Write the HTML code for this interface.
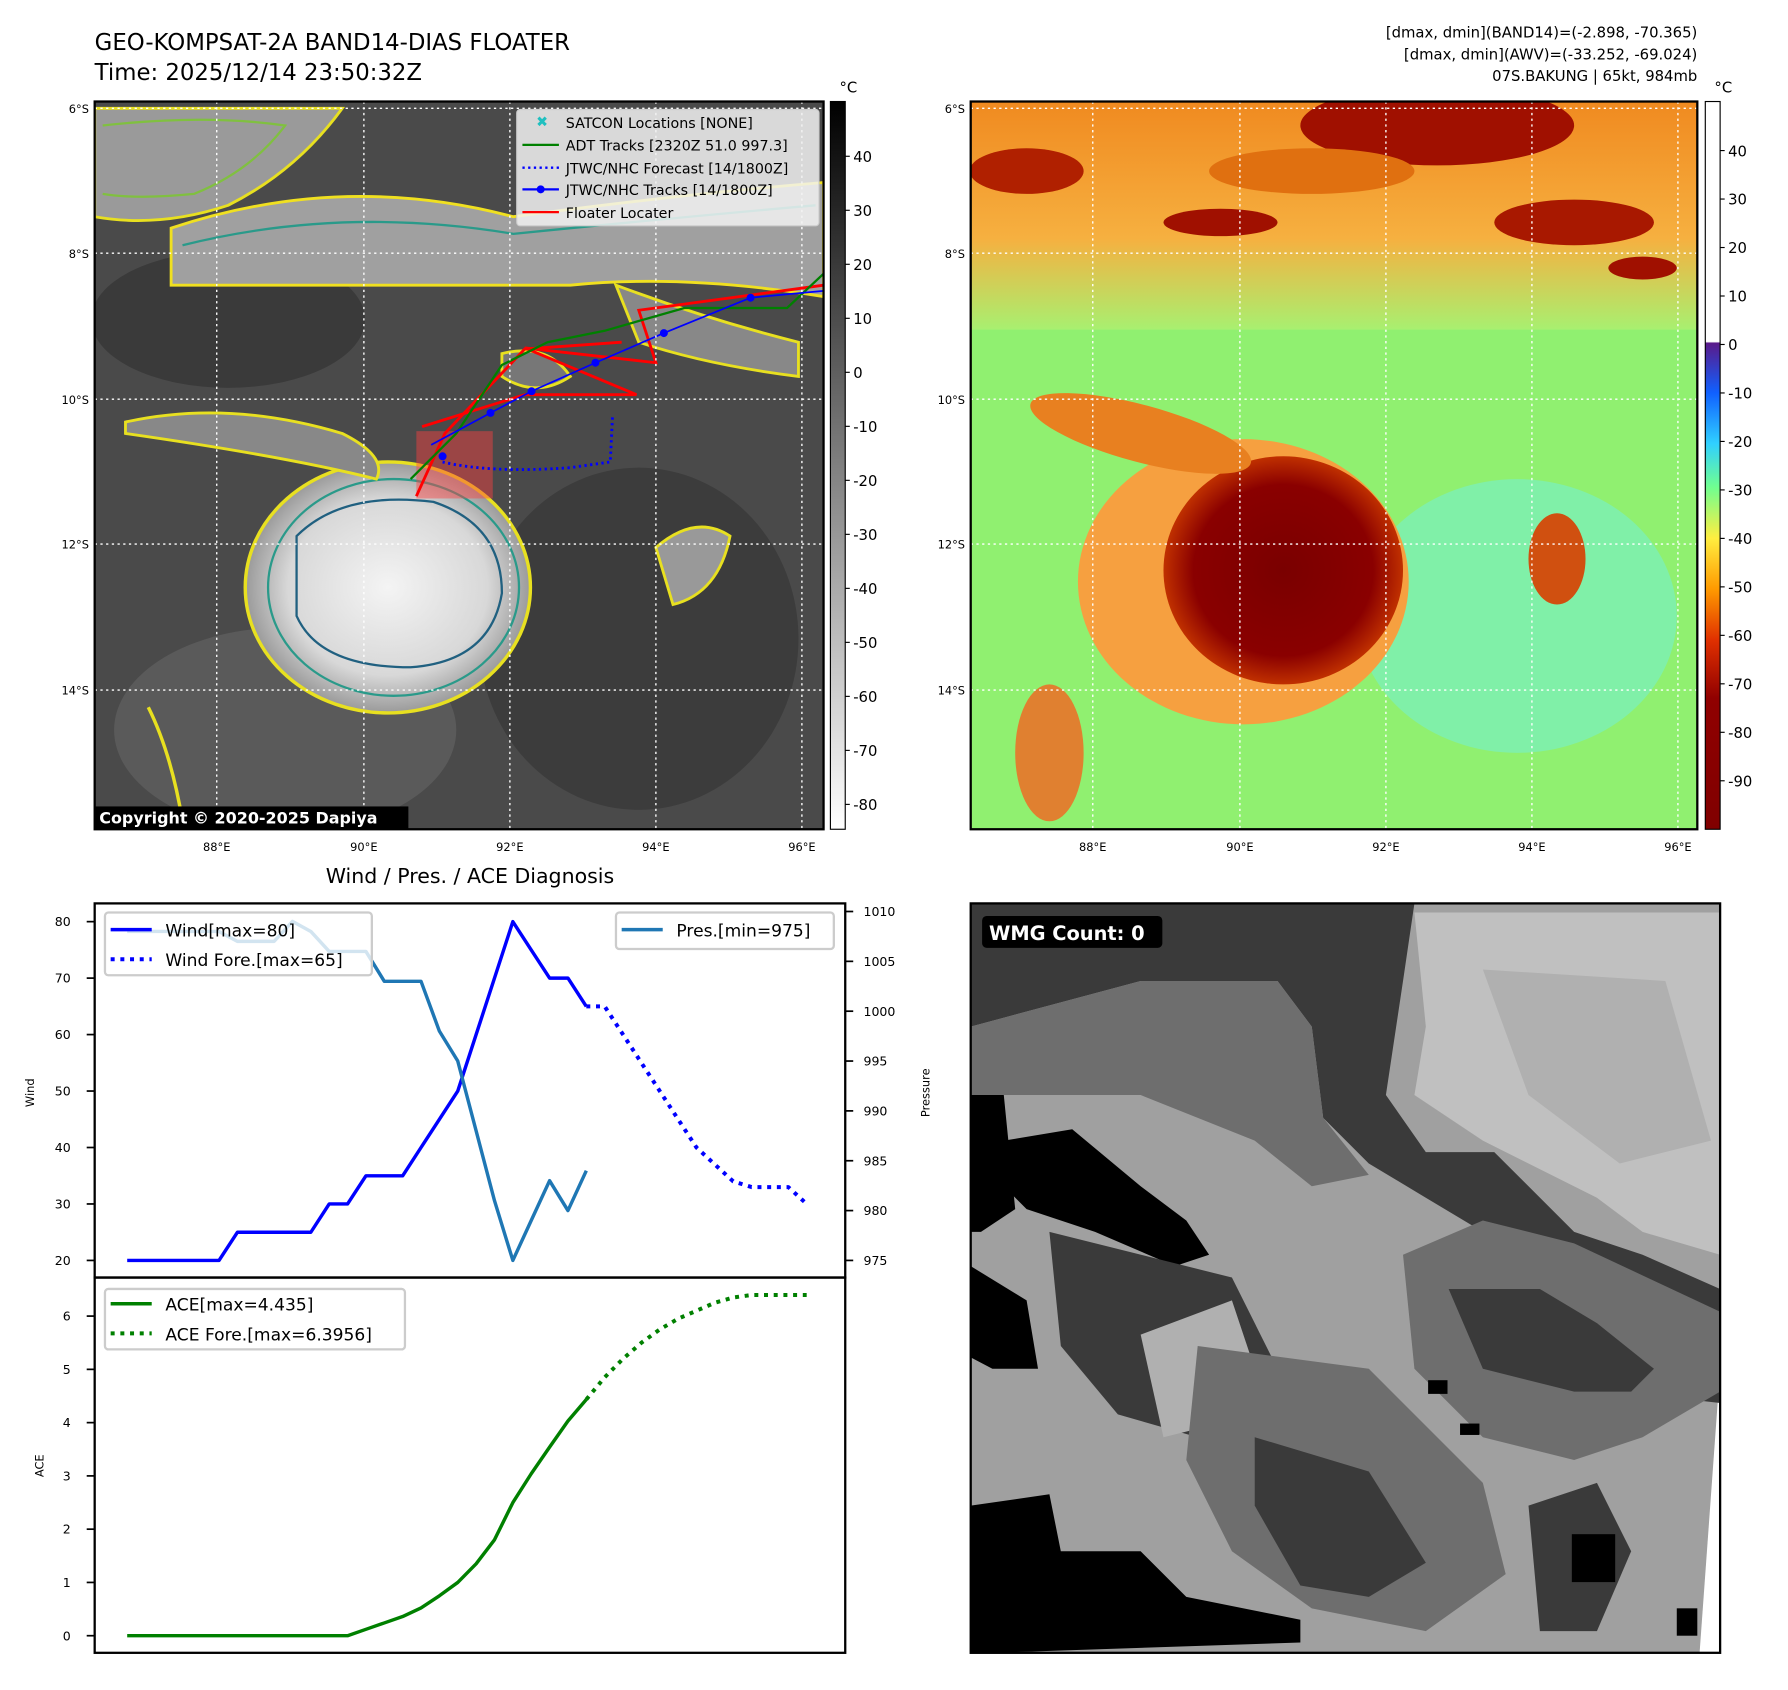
<!DOCTYPE html>
<html><head><meta charset="utf-8"><style>
html,body{margin:0;padding:0;background:#fff;}
svg{display:block;font-family:"DejaVu Sans","Liberation Sans",sans-serif;}
</style></head><body>
<svg id="root" width="1788" height="1690" viewBox="0 0 1567.5 1481.6" xmlns="http://www.w3.org/2000/svg">
<defs>
<linearGradient id="gbar" x1="0" y1="0" x2="0" y2="1"><stop offset="0" stop-color="#000"/><stop offset="1" stop-color="#fff"/></linearGradient>
<linearGradient id="cbar" x1="0" y1="0" x2="0" y2="1">
<stop offset="0" stop-color="#fff"/><stop offset="0.33" stop-color="#fff"/><stop offset="0.332" stop-color="#5a1a8a"/>
<stop offset="0.40" stop-color="#1060ff"/><stop offset="0.47" stop-color="#30d0ff"/><stop offset="0.53" stop-color="#70ff90"/>
<stop offset="0.60" stop-color="#ffee40"/><stop offset="0.67" stop-color="#ff9a00"/><stop offset="0.74" stop-color="#e03000"/>
<stop offset="0.82" stop-color="#900000"/><stop offset="1" stop-color="#800000"/></linearGradient>
<radialGradient id="storm"><stop offset="0" stop-color="#f4f4f4"/><stop offset="0.7" stop-color="#d8d8d8"/><stop offset="1" stop-color="#9a9a9a"/></radialGradient>
<radialGradient id="storm2"><stop offset="0" stop-color="#7a0000"/><stop offset="0.75" stop-color="#8a0000"/><stop offset="1" stop-color="#c03000"/></radialGradient>
<linearGradient id="topband" x1="0" y1="0" x2="0" y2="1"><stop offset="0" stop-color="#f08a20"/><stop offset="0.6" stop-color="#f6b040"/><stop offset="1" stop-color="#a8f070"/></linearGradient>
<clipPath id="c1"><rect x="83" y="89" width="639" height="638"/></clipPath>
<clipPath id="c2"><rect x="851" y="89" width="637" height="638"/></clipPath>
</defs>

<text x="83" y="44" font-size="20">GEO-KOMPSAT-2A BAND14-DIAS FLOATER</text>
<text x="83" y="70" font-size="20">Time: 2025/12/14 23:50:32Z</text>
<g font-size="13" text-anchor="end">
<text x="1488" y="33">[dmax, dmin](BAND14)=(-2.898, -70.365)</text>
<text x="1488" y="52">[dmax, dmin](AWV)=(-33.252, -69.024)</text>
<text x="1488" y="71">07S.BAKUNG | 65kt, 984mb</text>
</g>

<!-- top-left IR map -->
<g clip-path="url(#c1)">
<rect x="83" y="89" width="639" height="638" fill="#4a4a4a"/>
<ellipse cx="250" cy="640" rx="150" ry="90" fill="#5a5a5a"/>
<ellipse cx="560" cy="560" rx="140" ry="150" fill="#3c3c3c"/>
<ellipse cx="200" cy="280" rx="120" ry="60" fill="#3a3a3a"/>
<path d="M150 200 Q300 150 450 190 Q600 170 722 160 L722 260 Q600 240 500 250 Q350 250 150 250 Z" fill="#a0a0a0" stroke="#f0e020" stroke-width="2.5"/>
<path d="M160 215 Q300 180 450 205 Q600 190 715 180" fill="none" stroke="#2a9a8a" stroke-width="2"/>
<path d="M83 95 L300 95 Q260 150 200 180 Q140 200 83 190 Z" fill="#9a9a9a" stroke="#e8e020" stroke-width="2.5"/>
<path d="M90 110 Q180 100 250 110 Q220 150 170 170 Q120 175 90 170" fill="none" stroke="#80c040" stroke-width="2"/>
<ellipse cx="340" cy="515" rx="125" ry="110" fill="url(#storm)" stroke="#e8e020" stroke-width="3"/>
<ellipse cx="345" cy="515" rx="110" ry="95" fill="none" stroke="#2a9a8a" stroke-width="2"/>
<path d="M260 470 Q300 430 380 440 Q440 460 440 520 Q430 580 360 585 Q280 585 260 540 Z" fill="none" stroke="#206080" stroke-width="2"/>
<path d="M110 370 Q200 350 300 380 Q340 400 330 420 Q250 400 110 380 Z" fill="#888" stroke="#e8e020" stroke-width="2.5"/>
<path d="M575 480 Q610 450 640 470 Q630 520 590 530 Z" fill="#999" stroke="#e8e020" stroke-width="2.5"/>
<path d="M130 620 Q150 660 160 720" fill="none" stroke="#e8e020" stroke-width="3"/>
<path d="M540 250 Q620 280 700 300 L700 330 Q620 320 560 300 Z" fill="#888" stroke="#e8e020" stroke-width="2.5"/>
<path d="M440 310 Q480 300 500 330 Q470 350 440 330 Z" fill="#777" stroke="#e8e020" stroke-width="2.5"/>
<rect x="365" y="378" width="67" height="59" fill="#ff4040" fill-opacity="0.45"/>
<g fill="none" stroke-width="2.5">
<path d="M370 374 L460 346 L558 346 L460 305 L575 318 L560 272 L722 250" stroke="#ff0000"/>
<path d="M365 435 L390 380 L460 306 L545 300" stroke="#ff0000"/>
<path d="M360 420 L400 380 L440 320 L480 300 L530 290 L600 270 L690 270 L722 240" stroke="#008000" stroke-width="2"/>
<path d="M378 390 L430 362 L466 343 L522 318 L582 292 L658 261 L722 255" stroke="#0000ff" stroke-width="1.5"/>
<path d="M388 405 Q430 415 500 410 L535 405 L537 365" stroke="#0000ff" stroke-dasharray="2 3"/>
</g>
<g fill="#0000ff"><circle cx="388" cy="400" r="3.5"/><circle cx="430" cy="362" r="3.5"/><circle cx="466" cy="343" r="3.5"/><circle cx="522" cy="318" r="3.5"/><circle cx="582" cy="292" r="3.5"/><circle cx="658" cy="261" r="3.5"/></g>
<g stroke="#fff" stroke-dasharray="2 3" stroke-width="1.2">
<line x1="83" y1="95" x2="722" y2="95"/><line x1="83" y1="222" x2="722" y2="222"/><line x1="83" y1="350" x2="722" y2="350"/><line x1="83" y1="477" x2="722" y2="477"/><line x1="83" y1="605" x2="722" y2="605"/>
<line x1="190" y1="89" x2="190" y2="727"/><line x1="319" y1="89" x2="319" y2="727"/><line x1="447" y1="89" x2="447" y2="727"/><line x1="575" y1="89" x2="575" y2="727"/><line x1="703" y1="89" x2="703" y2="727"/>
</g>
</g>
<rect x="83" y="89" width="639" height="638" fill="none" stroke="#000" stroke-width="2"/>
<g>
<rect x="453" y="96" width="265" height="102" fill="#f2f2f2" fill-opacity="0.85" stroke="#ccc" rx="3"/>
<g font-size="12.5">
<text x="470" y="111" fill="#20c0c0" font-weight="bold">✖</text><text x="496" y="112">SATCON Locations [NONE]</text>
<line x1="458" y1="127" x2="490" y2="127" stroke="#008000" stroke-width="2"/><text x="496" y="132">ADT Tracks [2320Z 51.0 997.3]</text>
<line x1="458" y1="147" x2="490" y2="147" stroke="#0000ff" stroke-width="2" stroke-dasharray="2 3"/><text x="496" y="152">JTWC/NHC Forecast [14/1800Z]</text>
<line x1="458" y1="166" x2="490" y2="166" stroke="#0000ff" stroke-width="2"/><circle cx="474" cy="166" r="3.5" fill="#0000ff"/><text x="496" y="171">JTWC/NHC Tracks [14/1800Z]</text>
<line x1="458" y1="186" x2="490" y2="186" stroke="#ff0000" stroke-width="2"/><text x="496" y="191">Floater Locater</text>
</g></g>
<rect x="83" y="707" width="275" height="20" fill="#000"/>
<text x="87" y="722" font-size="14" font-weight="bold" fill="#fff">Copyright © 2020-2025 Dapiya</text>
<g font-size="10" text-anchor="end">
<text x="78" y="99">6°S</text><text x="78" y="226">8°S</text><text x="78" y="354">10°S</text><text x="78" y="481">12°S</text><text x="78" y="609">14°S</text></g>
<g font-size="10" text-anchor="middle">
<text x="190" y="746">88°E</text><text x="319" y="746">90°E</text><text x="447" y="746">92°E</text><text x="575" y="746">94°E</text><text x="703" y="746">96°E</text></g>
<rect x="728" y="89" width="13" height="638" fill="url(#gbar)" stroke="#000"/>
<text x="736" y="81" font-size="13">°C</text>
<g id="cb1" font-size="13"></g>

<!-- top-right AWV map -->
<g clip-path="url(#c2)">
<rect x="851" y="89" width="637" height="638" fill="#90f070"/>
<ellipse cx="1330" cy="540" rx="140" ry="120" fill="#80f0a8"/>
<rect x="851" y="89" width="637" height="200" fill="url(#topband)"/>
<ellipse cx="1260" cy="110" rx="120" ry="35" fill="#a01000"/>
<ellipse cx="1380" cy="195" rx="70" ry="20" fill="#a81800"/>
<ellipse cx="1070" cy="195" rx="50" ry="12" fill="#a01000"/>
<ellipse cx="900" cy="150" rx="50" ry="20" fill="#b02000"/>
<ellipse cx="1440" cy="235" rx="30" ry="10" fill="#a01000"/>
<ellipse cx="1150" cy="150" rx="90" ry="20" fill="#e07010"/>
<ellipse cx="1090" cy="510" rx="145" ry="125" fill="#f6a040"/>
<ellipse cx="1125" cy="500" rx="105" ry="100" fill="url(#storm2)"/>
<ellipse cx="1000" cy="380" rx="100" ry="25" fill="#e88020" transform="rotate(15 1000 380)"/>
<ellipse cx="1365" cy="490" rx="25" ry="40" fill="#d05010"/>
<ellipse cx="920" cy="660" rx="30" ry="60" fill="#e08030"/>
<g stroke="#fff" stroke-dasharray="2 3" stroke-width="1.2">
<line x1="851" y1="95" x2="1488" y2="95"/><line x1="851" y1="222" x2="1488" y2="222"/><line x1="851" y1="350" x2="1488" y2="350"/><line x1="851" y1="477" x2="1488" y2="477"/><line x1="851" y1="605" x2="1488" y2="605"/>
<line x1="958" y1="89" x2="958" y2="727"/><line x1="1087" y1="89" x2="1087" y2="727"/><line x1="1215" y1="89" x2="1215" y2="727"/><line x1="1343" y1="89" x2="1343" y2="727"/><line x1="1471" y1="89" x2="1471" y2="727"/>
</g></g>
<rect x="851" y="89" width="637" height="638" fill="none" stroke="#000" stroke-width="2"/>
<g font-size="10" text-anchor="end">
<text x="846" y="99">6°S</text><text x="846" y="226">8°S</text><text x="846" y="354">10°S</text><text x="846" y="481">12°S</text><text x="846" y="609">14°S</text></g>
<g font-size="10" text-anchor="middle">
<text x="958" y="746">88°E</text><text x="1087" y="746">90°E</text><text x="1215" y="746">92°E</text><text x="1343" y="746">94°E</text><text x="1471" y="746">96°E</text></g>
<rect x="1495" y="89" width="13" height="638" fill="url(#cbar)" stroke="#000"/>
<text x="1503" y="81" font-size="13">°C</text>
<g id="cb2" font-size="13"></g>

<!-- bottom chart -->
<text x="412" y="774" font-size="18" text-anchor="middle">Wind / Pres. / ACE Diagnosis</text>
<rect x="83" y="792" width="658" height="328" fill="none" stroke="#000" stroke-width="2"/>
<rect x="83" y="1120" width="658" height="329" fill="none" stroke="#000" stroke-width="2"/>
<text transform="translate(30 958) rotate(-90)" font-size="10" text-anchor="middle">Wind</text>
<text transform="translate(815 958) rotate(-90)" font-size="10" text-anchor="middle">Pressure</text>
<text transform="translate(38 1285) rotate(-90)" font-size="10" text-anchor="middle">ACE</text>
<g id="ticks"></g>
<g id="series"></g>
<g>
<rect x="92" y="800" width="234" height="55" fill="#fff" fill-opacity="0.8" stroke="#ccc" stroke-width="2" rx="3"/>
<line x1="97" y1="815" x2="133" y2="815" stroke="#0000ff" stroke-width="3"/><text x="145" y="821" font-size="15">Wind[max=80]</text>
<line x1="97" y1="841" x2="133" y2="841" stroke="#0000ff" stroke-width="3.5" stroke-dasharray="3.5 5"/><text x="145" y="847" font-size="15">Wind Fore.[max=65]</text>
</g>
<g>
<rect x="540" y="800" width="191" height="32" fill="#fff" fill-opacity="0.8" stroke="#ccc" stroke-width="2" rx="3"/>
<line x1="545" y1="815" x2="581" y2="815" stroke="#1f77b4" stroke-width="3"/><text x="593" y="821" font-size="15">Pres.[min=975]</text>
</g>
<g>
<rect x="92" y="1130" width="263" height="53" fill="#fff" fill-opacity="0.8" stroke="#ccc" stroke-width="2" rx="3"/>
<line x1="97" y1="1143" x2="133" y2="1143" stroke="#008000" stroke-width="3"/><text x="145" y="1149" font-size="15">ACE[max=4.435]</text>
<line x1="97" y1="1169" x2="133" y2="1169" stroke="#008000" stroke-width="3.5" stroke-dasharray="3.5 5"/><text x="145" y="1175" font-size="15">ACE Fore.[max=6.3956]</text>
</g>

<!-- bottom-right WMG -->
<g>
<polygon points="851,792 1508,792 1508,1200 1490,1449 851,1449" fill="#a0a0a0"/>
<polygon points="1240,800 1508,800 1508,1100 1440,1080 1400,1050 1300,1000 1240,960 1250,900" fill="#c0c0c0"/>
<polygon points="1300,850 1460,860 1500,1000 1420,1020 1340,960" fill="#b0b0b0"/>
<polygon points="851,792 1240,792 1230,860 1215,960 1250,1010 1310,1010 1380,1080 1440,1100 1508,1130 1508,1230 1420,1220 1380,1150 1300,1080 1250,1050 1200,1020 1160,980 1150,900 1120,860 1000,860 851,900" fill="#3a3a3a"/>
<polygon points="851,900 1000,860 1120,860 1150,900 1160,980 1200,1030 1150,1040 1100,1000 1000,960 920,960 851,960" fill="#6e6e6e"/>
<polygon points="1230,1100 1300,1070 1380,1090 1508,1150 1508,1220 1440,1260 1380,1280 1300,1260 1240,1200" fill="#6e6e6e"/>
<polygon points="1270,1130 1350,1130 1400,1160 1450,1200 1430,1220 1380,1220 1300,1200" fill="#3a3a3a"/>
<polygon points="880,1000 940,990 1000,1040 1040,1070 1060,1100 1030,1110 960,1080 900,1060 880,1040" fill="#000"/>
<polygon points="851,960 880,960 890,1060 860,1080 851,1080" fill="#000"/>
<polygon points="851,1110 900,1140 910,1200 870,1200 851,1190" fill="#000"/>
<polygon points="920,1080 1080,1120 1120,1200 1050,1260 980,1240 930,1180" fill="#3a3a3a"/>
<polygon points="1000,1170 1080,1140 1100,1200 1060,1250 1020,1260" fill="#b0b0b0"/>
<polygon points="1050,1180 1200,1200 1300,1300 1320,1380 1250,1430 1150,1410 1080,1360 1040,1280" fill="#6e6e6e"/>
<polygon points="1100,1260 1200,1290 1250,1370 1200,1400 1140,1390 1100,1320" fill="#3a3a3a"/>
<polygon points="1340,1320 1400,1300 1430,1360 1400,1430 1350,1430" fill="#3a3a3a"/>
<polygon points="851,1320 920,1310 930,1360 1000,1360 1040,1400 1140,1420 1140,1440 870,1449 851,1449" fill="#000"/>
<rect x="1378" y="1345" width="38" height="42" fill="#000"/>
<rect x="1252" y="1210" width="17" height="12" fill="#000"/>
<rect x="1280" y="1248" width="17" height="10" fill="#000"/>
<rect x="1470" y="1410" width="18" height="24" fill="#000"/>
</g>
<rect x="851" y="792" width="657" height="657" fill="none" stroke="#000" stroke-width="2"/>
<rect x="861" y="803" width="158" height="28" rx="4" fill="#000"/>
<text x="867" y="824" font-size="17" font-weight="bold" fill="#fff">WMG Count: 0</text>
</svg>
<script>
const windVals=[20,20,20,20,20,20,25,25,25,25,25,30,30,35,35,35,40,45,50,60,70,80,75,70,70,65];
const windFore=[65,65,60,55,50,45,40,37,34,33,33,33,30];
const presVals=[1008,1008,1008,1008,1008,1008,1007,1007,1007,1009,1008,1006,1006,1006,1003,1003,1003,998,995,988,981,975,979,983,980,984];
const aceVals=[0,0,0,0,0,0,0,0,0,0,0,0,0,0.12,0.24,0.36,0.52,0.75,1.0,1.35,1.8,2.5,3.04,3.54,4.03,4.435];
const aceFore=[4.435,4.85,5.2,5.5,5.75,5.95,6.1,6.25,6.35,6.3956,6.3956,6.3956,6.3956];
const windTicks=[20,30,40,50,60,70,80];
const presTicks=[975,980,985,990,995,1000,1005,1010];
const aceTicks=[0,1,2,3,4,5,6];
const cb1Ticks=[40,30,20,10,0,-10,-20,-30,-40,-50,-60,-70,-80];
const cb2Ticks=[40,30,20,10,0,-10,-20,-30,-40,-50,-60,-70,-80,-90];
const NS='http://www.w3.org/2000/svg';
const xS=i=>111.5+16.1*i;
const yW=v=>1105-(v-20)*4.95;
const yP=v=>1105-(v-975)*8.74;
const yA=v=>1434-v*46.7;
function mk(tag,attrs,parent){const e=document.createElementNS(NS,tag);for(const k in attrs)e.setAttribute(k,attrs[k]);parent.appendChild(e);return e;}
const T=document.getElementById('ticks');
windTicks.forEach(v=>{const y=yW(v);
const l=mk('line',{x1:76,x2:83,y1:y,y2:y,stroke:'#000','stroke-width':1.5},T);


const t=mk('text',{x:62,y:y+4,'font-size':11,'text-anchor':'end'},T);t.textContent=v;

});
presTicks.forEach(v=>{const y=yP(v);
const l=mk('line',{x1:741,x2:748,y1:y,y2:y,stroke:'#000','stroke-width':1.5},T);


const t=mk('text',{x:757,y:y+4,'font-size':11},T);t.textContent=v;

});
aceTicks.forEach(v=>{const y=yA(v);
const l=mk('line',{x1:76,x2:83,y1:y,y2:y,stroke:'#000','stroke-width':1.5},T);


const t=mk('text',{x:62,y:y+4,'font-size':11,'text-anchor':'end'},T);t.textContent=v;

});
const C1=document.getElementById('cb1');
cb1Ticks.forEach(v=>{const y=137+(40-v)*4.735;
mk('line',{x1:741,x2:745,y1:y,y2:y,stroke:'#000'},C1);
const t=mk('text',{x:748,y:y+5},C1);t.textContent=v;

});
const C2=document.getElementById('cb2');
cb2Ticks.forEach(v=>{const y=132+(40-v)*4.25;
mk('line',{x1:1508,x2:1512,y1:y,y2:y,stroke:'#000'},C2);
const t=mk('text',{x:1515,y:y+5},C2);t.textContent=v;

});
const S=document.getElementById('series');
function line(vals,off,yf,color,dash,name){
const pts=vals.map((v,i)=>xS(i+off).toFixed(1)+','+yf(v).toFixed(1)).join(' ');
const a={points:pts,fill:'none',stroke:color,'stroke-width':dash?3.5:3,'stroke-linejoin':'round'};
if(dash)a['stroke-dasharray']='3.5 5';
const p=mk('polyline',a,S);

}
line(windVals,0,yW,'#0000ff',false,'wind-line');
line(windFore,25,yW,'#0000ff',true,'wind-forecast-line');
line(presVals,0,yP,'#1f77b4',false,'pressure-line');
line(aceVals,0,yA,'#008000',false,'ace-line');
line(aceFore,25,yA,'#008000',true,'ace-forecast-line');
</script>
</body></html>
